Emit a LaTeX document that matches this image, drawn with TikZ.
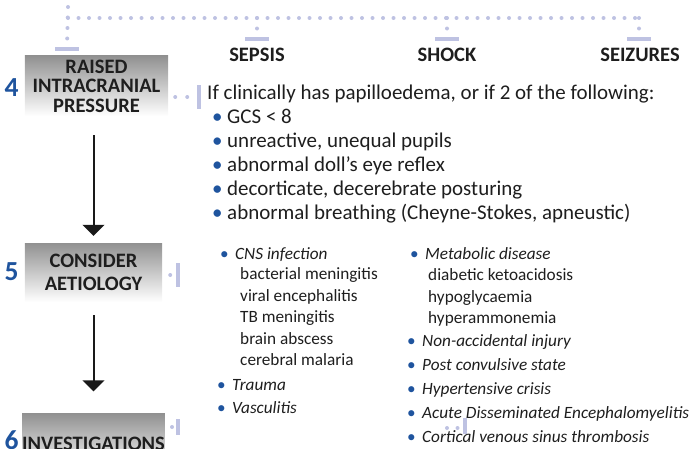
\documentclass[tikz,border=0pt]{standalone}
\usepackage{fontspec}
\setmainfont{Carlito}
\usetikzlibrary{arrows.meta}

\definecolor{azulNum}{RGB}{31,84,158}
\definecolor{lila}{RGB}{190,194,226}
\definecolor{tinta}{RGB}{30,30,30}
\definecolor{grisCaja}{RGB}{145,145,145}

% viñeta azul de ancho fijo
\newcommand{\vin}{\makebox[0.45cm][l]{\textcolor{azulNum}{\textbullet}}}

\begin{document}
\begin{tikzpicture}[
    x=0.03cm, y=-0.03cm,
    % --- CAJAS DE LOS PASOS ---
    cajaPaso/.style={top color=grisCaja, bottom color=white, text=tinta, align=center, inner sep=0pt},
    numPaso/.style={text=azulNum, font=\bfseries\fontsize{23.5}{23.5}\selectfont, inner sep=0pt},
    causa/.style={text=tinta, font=\bfseries\fontsize{17.5}{20}\selectfont, inner sep=0pt},
    % --- CONECTORES LILA ---
    barraH/.style={fill=lila, minimum width=0.7cm, minimum height=0.12cm, inner sep=0pt},
    barraV/.style={fill=lila, minimum width=0.12cm, minimum height=0.72cm, inner sep=0pt},
    puntos/.style={draw=lila, line width=0.12cm, line cap=round, dash pattern=on 0pt off 0.315cm},
    flechaPaso/.style={-{Triangle[width=0.66cm, length=0.33cm]}, line width=0.06cm, draw=black!90},
    % --- TEXTOS ---
    textoLista/.style={anchor=base west, inner sep=0pt, text=tinta, font=\fontsize{17.9}{20}\selectfont},
    textoCol/.style={anchor=base west, inner sep=0pt, text=tinta, font=\fontsize{14.7}{18}\selectfont}
]
    \useasboundingbox (0,0) rectangle (690,449);
    \clip (0,0) rectangle (690,449);

    % --- PASOS 4, 5, 6 ---
    \node[cajaPaso, minimum width=4.29cm, minimum height=1.8cm,
          font=\bfseries\fontsize{17.5}{16.6}\selectfont] (pic) at (96.5,86) {RAISED\\INTRACRANIAL\\PRESSURE};
    \node[cajaPaso, minimum width=4.11cm, minimum height=1.77cm,
          font=\bfseries\fontsize{17.5}{20}\selectfont] (etiol) at (93.5,272.5) {CONSIDER\\AETIOLOGY};
    \node[cajaPaso, minimum width=4.11cm, minimum height=1.8cm,
          font=\bfseries\fontsize{17.5}{20}\selectfont] (invest) at (93.5,443.5) {INVESTIGATIONS};

    \node[numPaso] (num4) at (11.5,88) {4};
    \node[numPaso] (num5) at (11.5,272) {5};
    \node[numPaso] (num6) at (11.5,440) {6};

    \draw[flechaPaso, shorten <=0.57cm, shorten >=0.21cm] (pic.south -| etiol.north) -- (etiol.north);
    \draw[flechaPaso, shorten <=0.39cm, shorten >=0.66cm] (etiol.south) -- (invest.north);

    % --- CORCHETE SUPERIOR ---
    \node[barraH] (barPic) at (67,49) {};
    \node[barraH] (barSepsis) at (257,38.5) {};
    \node[barraH] (barShock) at (447,38.5) {};
    \node[barraH] (barSeizures) at (639,38.5) {};
    \node[causa] (sepsis) at (257,55) {SEPSIS};
    \node[causa] (shock) at (447,55) {SHOCK};
    \node[causa] (seizures) at (640,55) {SEIZURES};

    \coordinate (arranque) at (68,7);
    \coordinate (esquina) at (68,18);
    \draw[puntos] (arranque) -- (barPic.north);
    \draw[puntos] (esquina) -- (esquina -| barSeizures);
    \foreach \b in {barSepsis, barShock, barSeizures}
        \draw[puntos] (esquina -| \b) -- (\b.north);

    % --- ENLACES A LA DERECHA ---
    \node[barraV] (barIcp) at (199,97) {};
    \node[barraV] (barEtiol) at (178,275) {};
    \node[barraV, minimum height=0.48cm] (barInvest) at (178,427) {};
    \node[barraV, minimum height=0.48cm] (barSuelto) at (465,426) {};
    \coordinate (sueltoIni) at (447,428);

    \draw[puntos, dash pattern=on 0pt off 0.36cm, shorten <=0.21cm] (pic.east |- barIcp) -- (barIcp.west);
    \draw[puntos, shorten <=0.24cm] (etiol.east |- barEtiol) -- (barEtiol.west);
    \draw[puntos, shorten <=0.21cm] (invest.east |- barInvest) -- (barInvest.west);
    \draw[puntos] (sueltoIni) -- (barSuelto.west |- sueltoIni);

    % --- CRITERIOS DE HIC ---
    \node[textoLista] (criterio) at (207,99) {If clinically has papilloedema, or if 2 of the following:};
    \foreach \texto [count=\i] in {GCS < 8, {unreactive, unequal pupils}, abnormal doll’s eye reflex,
        {decorticate, decerebrate posturing}, {abnormal breathing (Cheyne-Stokes, apneustic)}}
        \node[textoLista] (signo\i) at (212,100+23.8*\i) {\vin\texto};

    % --- ETIOLOGIA: COLUMNA A ---
    \node[textoCol] (cns) at (220,259) {\vin\textit{CNS infection}};
    \foreach \texto [count=\i] in {bacterial meningitis, viral encephalitis, TB meningitis,
        brain abscess, cerebral malaria}
        \node[textoCol] (infec\i) at (240,258+21.5*\i) {\texto};
    \node[textoCol] (trauma) at (217,390) {\vin\textit{Trauma}};
    \node[textoCol] (vascul) at (217,413) {\vin\textit{Vasculitis}};

    % --- ETIOLOGIA: COLUMNA B ---
    \node[textoCol] (metab) at (410,259) {\vin\textit{Metabolic disease}};
    \foreach \texto [count=\i] in {diabetic ketoacidosis, hypoglycaemia, hyperammonemia}
        \node[textoCol] (metab\i) at (428,259+21.5*\i) {\texto};
    \foreach \texto [count=\i] in {Non-accidental injury, Post convulsive state, Hypertensive crisis,
        Acute Disseminated Encephalomyelitis, Cortical venous sinus thrombosis}
        \node[textoCol] (causaB\i) at (407,323+23.8*\i) {\vin\textit{\texto}};

\end{tikzpicture}
\end{document}
